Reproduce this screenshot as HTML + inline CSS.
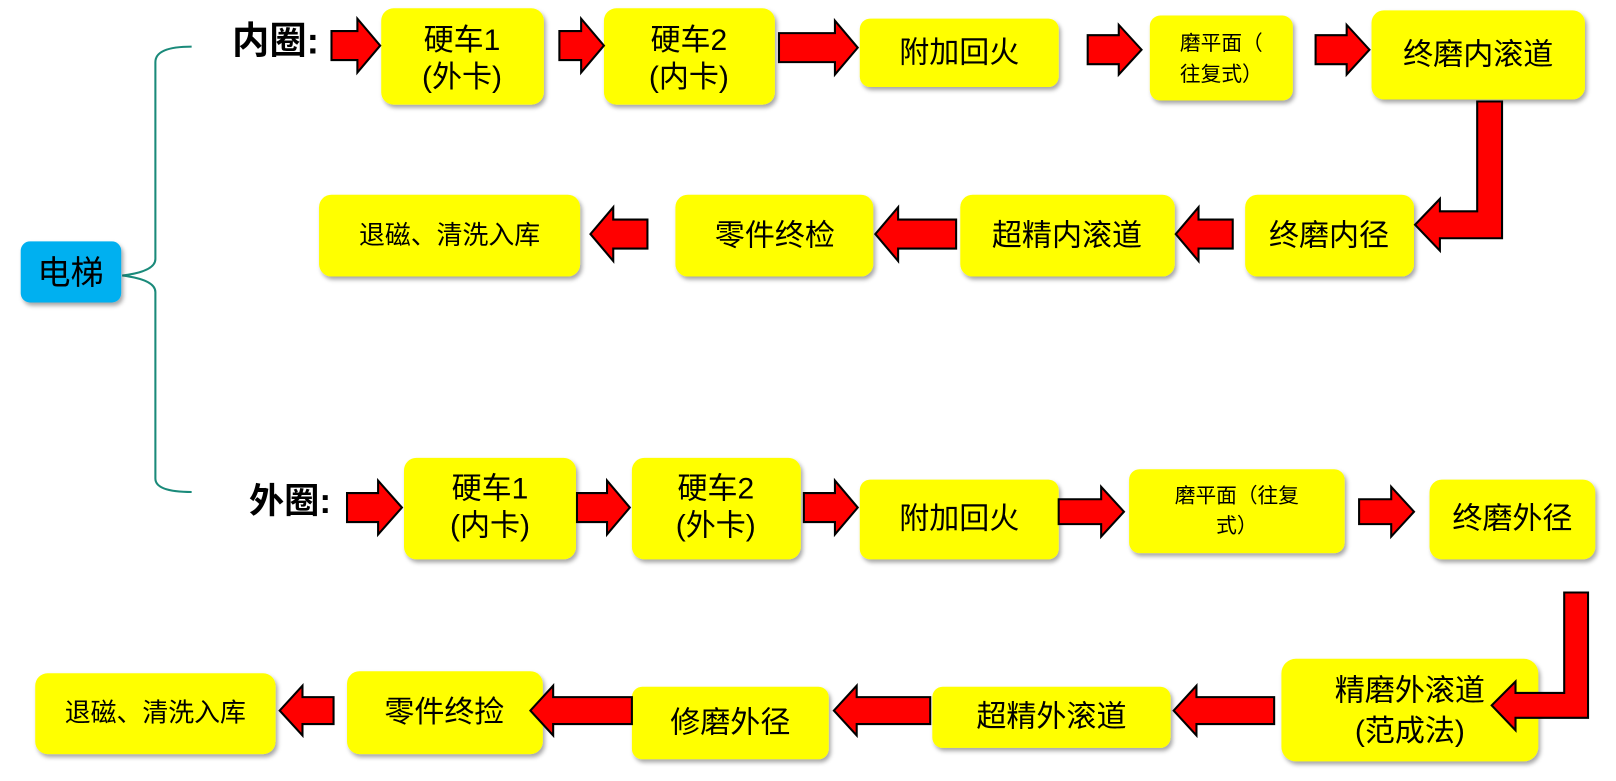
<!DOCTYPE html>
<html><head><meta charset="utf-8"><style>
body{margin:0;background:#fff}
svg{display:block}
text{font-family:"Liberation Sans","Noto Sans CJK SC",sans-serif;fill:#000;text-anchor:middle;dominant-baseline:central}
.b{fill:#FFFF00}
.a{fill:#FF0000;stroke:#000;stroke-width:2}
</style></head><body>
<svg width="1616" height="781" viewBox="0 0 1560 754" preserveAspectRatio="none">
<defs><filter id="s" x="-10%" y="-10%" width="130%" height="130%"><feDropShadow dx="2" dy="3" stdDeviation="2" flood-color="#000" flood-opacity="0.35"/></filter></defs>
<path d="M185,45 Q150,45 150,60 L150,250 Q150,262 118,266 Q150,270 150,282 L150,462 Q150,475 185,475" fill="none" stroke="#1a8a7a" stroke-width="2"/>
<rect x="20" y="233" width="97" height="59" rx="9" fill="#00B0F0" filter="url(#s)"/>
<text x="68" y="264" font-size="32">电梯</text>
<text x="266" y="39" font-size="36" font-weight="bold">内圈:</text>
<text x="280" y="484" font-size="34" font-weight="bold">外圈:</text>
<g filter="url(#s)">
<rect class="b" x="368" y="8" width="157" height="93" rx="12"/>
<rect class="b" x="583" y="8" width="165" height="93" rx="12"/>
<rect class="b" x="830" y="18" width="192" height="66" rx="10"/>
<rect class="b" x="1110" y="15" width="138" height="82" rx="10"/>
<rect class="b" x="1324" y="10" width="206" height="86" rx="12"/>
<rect class="b" x="308" y="188" width="252" height="79" rx="12"/>
<rect class="b" x="652" y="188" width="191" height="79" rx="12"/>
<rect class="b" x="927" y="188" width="207" height="79" rx="12"/>
<rect class="b" x="1202" y="188" width="163" height="79" rx="12"/>
<rect class="b" x="390" y="442" width="166" height="98" rx="12"/>
<rect class="b" x="610" y="442" width="163" height="98" rx="12"/>
<rect class="b" x="830" y="463" width="192" height="77" rx="10"/>
<rect class="b" x="1090" y="453" width="208" height="81" rx="10"/>
<rect class="b" x="1380" y="463" width="160" height="77" rx="12"/>
<rect class="b" x="34" y="650" width="232" height="78" rx="12"/>
<rect class="b" x="335" y="648" width="189" height="80" rx="12"/>
<rect class="b" x="610" y="663" width="190" height="70" rx="10"/>
<rect class="b" x="900" y="663" width="230" height="59" rx="10"/>
<rect class="b" x="1237" y="636" width="248" height="99" rx="14"/>
</g>
<g font-size="29">
<text x="446" y="39">硬车1</text><text x="446" y="75">(外卡)</text>
<text x="665" y="39">硬车2</text><text x="665" y="75">(内卡)</text>
<text x="926" y="51">附加回火</text>
<text x="1179" y="42" font-size="20">磨平面（</text><text x="1179" y="72" font-size="20">往复式）</text>
<text x="1427" y="53">终磨内滚道</text>
<text x="434" y="228" font-size="25">退磁、清洗入库</text>
<text x="748" y="228">零件终检</text>
<text x="1030" y="228">超精内滚道</text>
<text x="1283" y="228">终磨内径</text>
<text x="473" y="472">硬车1</text><text x="473" y="508">(内卡)</text>
<text x="691" y="472">硬车2</text><text x="691" y="508">(外卡)</text>
<text x="926" y="501">附加回火</text>
<text x="1194" y="479" font-size="20">磨平面（往复</text><text x="1194" y="508" font-size="20">式）</text>
<text x="1460" y="501">终磨外径</text>
<text x="150" y="689" font-size="25">退磁、清洗入库</text>
<text x="429" y="688">零件终捡</text>
<text x="705" y="698">修磨外径</text>
<text x="1015" y="692">超精外滚道</text>
<text x="1361" y="667">精磨外滚道</text><text x="1361" y="706">(范成法)</text>
</g>
<g class="a">
<polygon points="320,30 345,30 345,18 367,44 345,70 345,58 320,58"/>
<polygon points="540,30 561,30 561,18 583,44 561,70 561,58 540,58"/>
<polygon points="752,32 806,32 806,20 828,46 806,72 806,60 752,60"/>
<polygon points="1050,34 1080,34 1080,24 1102,48 1080,72 1080,62 1050,62"/>
<polygon points="1270,34 1300,34 1300,24 1322,48 1300,72 1300,62 1270,62"/>
<polygon points="570,226 592,200 592,212 625,212 625,240 592,240 592,252"/>
<polygon points="845,226 867,200 867,212 923,212 923,240 867,240 867,252"/>
<polygon points="1135,226 1157,200 1157,212 1190,212 1190,240 1157,240 1157,252"/>
<polygon points="1366,217 1390,192 1390,204 1426,204 1426,98 1450,98 1450,230 1390,230 1390,242"/>
<polygon points="335,476 365,476 365,464 388,490 365,516 365,504 335,504"/>
<polygon points="557,476 586,476 586,464 608,490 586,516 586,504 557,504"/>
<polygon points="776,476 806,476 806,464 828,490 806,516 806,504 776,504"/>
<polygon points="1022,482 1063,482 1063,470 1085,494 1063,518 1063,506 1022,506"/>
<polygon points="1312,482 1343,482 1343,470 1365,494 1343,518 1343,506 1312,506"/>
<polygon points="270,686 292,662 292,673 322,673 322,699 292,699 292,710"/>
<polygon points="512,686 534,662 534,673 610,673 610,699 534,699 534,710"/>
<polygon points="805,686 827,662 827,673 898,673 898,699 827,699 827,710"/>
<polygon points="1133,686 1155,662 1155,673 1230,673 1230,699 1155,699 1155,710"/>
<polygon points="1440,681 1463,658 1463,669 1510,669 1510,572 1533,572 1533,693 1463,693 1463,705"/>
</g>
</svg>
</body></html>
